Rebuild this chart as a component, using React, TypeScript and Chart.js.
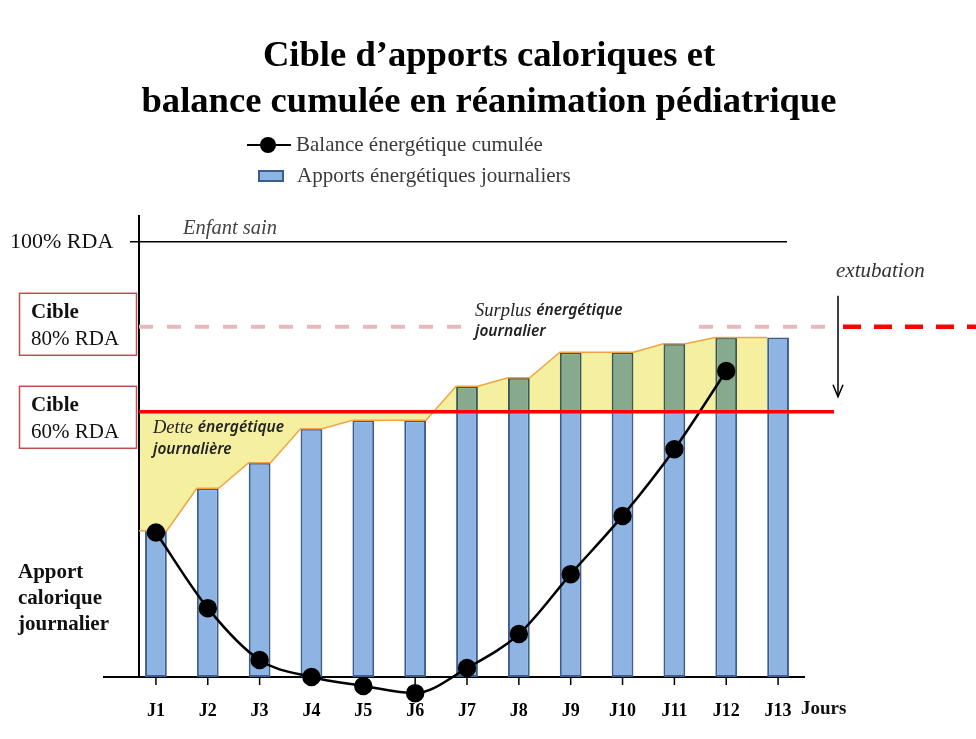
import React, { useEffect, useRef } from 'react';
import { Chart, registerables } from 'chart.js';

Chart.register(...registerables);

// ---- Data ----
const DAYS = ['J1', 'J2', 'J3', 'J4', 'J5', 'J6', 'J7', 'J8', 'J9', 'J10', 'J11', 'J12', 'J13'];
// Daily energy intake, in % of RDA
const DAILY_INTAKE = [32, 42, 48, 56, 58, 58, 66, 68, 74, 74, 76, 77.5, 77.5];
// Cumulative energy balance (arbitrary units, 0 = baseline of the bars)
const CUMULATIVE_BALANCE = [34, 16.2, 4, 0, -2.1, -3.8, 2.1, 10.1, 24.2, 37.9, 53.6, 72];
// Reference levels, in % RDA
const RDA_HEALTHY = 100;
const TARGET_HIGH = 80;
const TARGET_LOW = 60;

const TITLE_LINES = ['Cible d’apports caloriques et', 'balance cumulée en réanimation pédiatrique'];
const LEGEND_BALANCE = 'Balance énergétique cumulée';
const LEGEND_INTAKE = 'Apports énergétiques journaliers';
const X_TITLE = 'Jours';

const AXIS_BASE = -2.4; // value of the horizontal axis line on the % RDA scale
const Y_MIN = -7.34;
const Y_MAX = 106.3;

const SERIF = '"Liberation Serif", "Times New Roman", serif';
const SANS = '"Noto Sans", "Open Sans", sans-serif';
const BAR_FILL = '#8db4e2';
const BAR_BORDER = '#3b5e8e';

function line(ctx: CanvasRenderingContext2D, x1: number, y1: number, x2: number, y2: number, color: string, width: number, dash: number[] = []) {
  ctx.save();
  ctx.beginPath();
  ctx.strokeStyle = color;
  ctx.lineWidth = width;
  ctx.setLineDash(dash);
  ctx.moveTo(x1, y1);
  ctx.lineTo(x2, y2);
  ctx.stroke();
  ctx.restore();
}

function text(ctx: CanvasRenderingContext2D, s: string, x: number, y: number, font: string, color = '#000', align: CanvasTextAlign = 'left') {
  ctx.save();
  ctx.font = font;
  ctx.fillStyle = color;
  ctx.textAlign = align;
  ctx.textBaseline = 'middle';
  ctx.fillText(s, x, y);
  ctx.restore();
}

function measure(ctx: CanvasRenderingContext2D, s: string, font: string) {
  ctx.save();
  ctx.font = font;
  const w = ctx.measureText(s).width;
  ctx.restore();
  return w;
}

const areaPlugin = {
  id: 'energyArea',
  afterDatasetDraw(chart: any, args: any) {
    if (args.index !== 0) return;
    const { ctx, chartArea, scales } = chart;
    const yT = scales.y.getPixelForValue(TARGET_LOW);
    const axisX = chartArea.left + 9;
    const bars = chart.getDatasetMeta(0).data;
    const n = bars.length;
    const pts: [number, number][] = [];
    pts.push([axisX, yT]);
    pts.push([axisX, bars[0].y]);
    for (let i = 0; i < n; i++) {
      const b = bars[i];
      const half = b.width / 2;
      if (i > 0) pts.push([b.x - half, b.y]);
      if (i < n - 1) pts.push([b.x + half, b.y]);
    }
    const last = bars[n - 1];
    pts.push([last.x - last.width / 2, yT]);
    ctx.save();
    ctx.beginPath();
    pts.forEach(([px, py], i) => (i === 0 ? ctx.moveTo(px, py) : ctx.lineTo(px, py)));
    ctx.closePath();
    ctx.globalCompositeOperation = 'multiply';
    ctx.fillStyle = '#f5f0a0';
    ctx.fill();
    ctx.globalCompositeOperation = 'source-over';
    ctx.strokeStyle = '#eea446';
    ctx.lineWidth = 1.5;
    ctx.beginPath();
    for (let i = 1; i < pts.length - 1; i++) {
      const [px, py] = pts[i];
      i === 1 ? ctx.moveTo(px, py) : ctx.lineTo(px, py);
    }
    ctx.stroke();
    ctx.restore();
  },
};

const decorPlugin = {
  id: 'decor',
  beforeDatasetsDraw(chart: any) {
    const { ctx, chartArea: ca, scales } = chart;
    const x = scales.x;
    const yBase = scales.y.getPixelForValue(AXIS_BASE);
    const axisX = ca.left + 9;
    // axes
    line(ctx, axisX, ca.top, axisX, yBase, '#000', 2);
    line(ctx, ca.left - 27, yBase, ca.right + 1, yBase, '#000', 2);
    for (let i = 0; i < DAYS.length; i++) {
      const px = x.getPixelForTick(i);
      line(ctx, px, yBase, px, yBase + 8, '#000', 1.5);
    }
  },
  afterDatasetsDraw(chart: any) {
    const { ctx, chartArea: ca, scales } = chart;
    const y = scales.y;
    const axisX = ca.left + 9;
    const y100 = y.getPixelForValue(RDA_HEALTHY);
    const y80 = y.getPixelForValue(TARGET_HIGH);
    const y60 = y.getPixelForValue(TARGET_LOW);
    const yBase = y.getPixelForValue(AXIS_BASE);
    const lineEnd = ca.right + 30;

    // title
    const titleFont = `bold 36.6px ${SERIF}`;
    text(ctx, TITLE_LINES[0], 489, 57, titleFont, '#000', 'center');
    text(ctx, TITLE_LINES[1], 489, 103, titleFont, '#000', 'center');

    // reference lines
    line(ctx, ca.left, y100, ca.right - 17, y100, '#000', 1.5);
    line(ctx, axisX, y80, lineEnd, y80, '#e6b9b8', 4, [14, 14]);
    line(ctx, lineEnd + 9, y80, 976, y80, '#ff0000', 4.5, [18, 13]);
    line(ctx, axisX, y60, lineEnd, y60, '#ff0000', 3.5);

    // extubation arrow
    const ax = lineEnd + 4;
    line(ctx, ax, y80 - 31, ax, y60 - 15, '#000', 1.5);
    ctx.save();
    ctx.beginPath();
    ctx.strokeStyle = '#000';
    ctx.lineWidth = 1.5;
    ctx.moveTo(ax - 5, y60 - 27);
    ctx.lineTo(ax, y60 - 15);
    ctx.lineTo(ax + 5, y60 - 27);
    ctx.stroke();
    ctx.restore();
    text(ctx, 'extubation', ax - 2, y80 - 55, `italic 21px ${SERIF}`, '#333');

    // "Enfant sain"
    text(ctx, 'Enfant sain', axisX + 44, y100 - 13, `italic 20.5px ${SERIF}`, '#444');

    // Surplus label (white box over dashed line)
    ctx.save();
    ctx.fillStyle = '#fff';
    ctx.fillRect(axisX + 322, y80 - 6, 228, 12);
    ctx.restore();
    const serifIt = `italic 18.5px ${SERIF}`;
    const sansIt = `italic 600 15.5px ${SANS}`;
    const sx = axisX + 336;
    const w1 = measure(ctx, 'Surplus ', serifIt);
    text(ctx, 'Surplus ', sx, y80 - 16, serifIt, '#222');
    text(ctx, 'énergétique', sx + w1, y80 - 16, sansIt, '#222');
    text(ctx, 'journalier', sx, y80 + 5, sansIt, '#222');

    // Dette label
    const w2 = measure(ctx, 'Dette ', serifIt);
    const dx = axisX + 14;
    text(ctx, 'Dette ', dx, y60 + 16, serifIt, '#222');
    text(ctx, 'énergétique', dx + w2, y60 + 16, sansIt, '#222');
    text(ctx, 'journalière', dx, y60 + 38, sansIt, '#222');

    // left labels
    text(ctx, '100% RDA', 10, y100, `22px ${SERIF}`, '#111');
    ctx.save();
    ctx.strokeStyle = '#c0504d';
    ctx.lineWidth = 1.5;
    ctx.strokeRect(19.5, y80 - 33.5, 117, 62);
    ctx.strokeRect(19.5, y60 - 25.5, 117, 62);
    ctx.restore();
    text(ctx, 'Cible', 31, y80 - 14, `bold 21px ${SERIF}`, '#111');
    text(ctx, '80% RDA', 31, y80 + 13, `21px ${SERIF}`, '#111');
    text(ctx, 'Cible', 31, y60 - 6, `bold 21px ${SERIF}`, '#111');
    text(ctx, '60% RDA', 31, y60 + 21, `21px ${SERIF}`, '#111');

    const ly = yBase - 104;
    text(ctx, 'Apport', 18, ly, `bold 21px ${SERIF}`, '#111');
    text(ctx, 'calorique', 18, ly + 26, `bold 21px ${SERIF}`, '#111');
    text(ctx, 'journalier', 18, ly + 52, `bold 21px ${SERIF}`, '#111');

    // x axis title
    text(ctx, X_TITLE, ca.right - 3, yBase + 32, `bold 19px ${SERIF}`, '#111');

    // legend
    const lx = 247;
    const l1 = 145;
    const l2 = 176;
    line(ctx, lx, l1, lx + 44, l1, '#000', 2);
    ctx.save();
    ctx.beginPath();
    ctx.fillStyle = '#000';
    ctx.arc(lx + 21, l1, 8, 0, Math.PI * 2);
    ctx.fill();
    ctx.restore();
    text(ctx, LEGEND_BALANCE, lx + 49, l1, `21px ${SERIF}`, '#3a3a3a');
    ctx.save();
    ctx.fillStyle = BAR_FILL;
    ctx.strokeStyle = BAR_BORDER;
    ctx.lineWidth = 2;
    ctx.fillRect(lx + 12, l2 - 5, 24, 10);
    ctx.strokeRect(lx + 12, l2 - 5, 24, 10);
    ctx.restore();
    text(ctx, LEGEND_INTAKE, lx + 50, l2, `21px ${SERIF}`, '#3a3a3a');
  },
};

export default function App() {
  const ref = useRef<HTMLCanvasElement | null>(null);
  useEffect(() => {
    document.body.style.margin = '0';
    const canvas = ref.current;
    if (!canvas) return;
    const chart = new Chart(canvas, {
      type: 'bar',
      data: {
        labels: DAYS,
        datasets: [
          {
            type: 'bar',
            label: LEGEND_INTAKE,
            data: DAILY_INTAKE,
            base: AXIS_BASE,
            backgroundColor: BAR_FILL,
            borderColor: BAR_BORDER,
            borderWidth: 2,
            borderSkipped: false,
            barPercentage: 0.42,
            categoryPercentage: 1,
            yAxisID: 'y',
            order: 1,
          } as any,
          {
            type: 'line',
            label: LEGEND_BALANCE,
            data: CUMULATIVE_BALANCE,
            borderColor: '#000',
            borderWidth: 2.5,
            pointRadius: 8,
            pointBackgroundColor: '#000',
            pointBorderColor: '#000',
            cubicInterpolationMode: 'monotone',
            clip: false,
            yAxisID: 'y2',
            order: 0,
          } as any,
        ],
      },
      options: {
        responsive: false,
        animation: false,
        layout: { padding: { left: 130, right: 172, top: 215, bottom: 13.4 } },
        plugins: {
          legend: { display: false },
          tooltip: { enabled: false },
          title: { display: false },
        },
        scales: {
          x: {
            type: 'category',
            offset: true,
            grid: { display: false, drawTicks: false },
            border: { display: false },
            ticks: { color: '#000', font: { family: SERIF, size: 18, weight: 'bold' }, padding: 3, maxRotation: 0, autoSkip: false },
          },
          y: { type: 'linear', display: false, min: Y_MIN, max: Y_MAX },
          y2: { type: 'linear', display: false, min: Y_MIN - AXIS_BASE, max: Y_MAX - AXIS_BASE },
        },
      },
      plugins: [areaPlugin, decorPlugin],
    } as any);
    return () => chart.destroy();
  }, []);
  return (
    <div style={{ width: 976, height: 739, background: '#fff' }}>
      <canvas ref={ref} width={976} height={739} />
    </div>
  );
}
